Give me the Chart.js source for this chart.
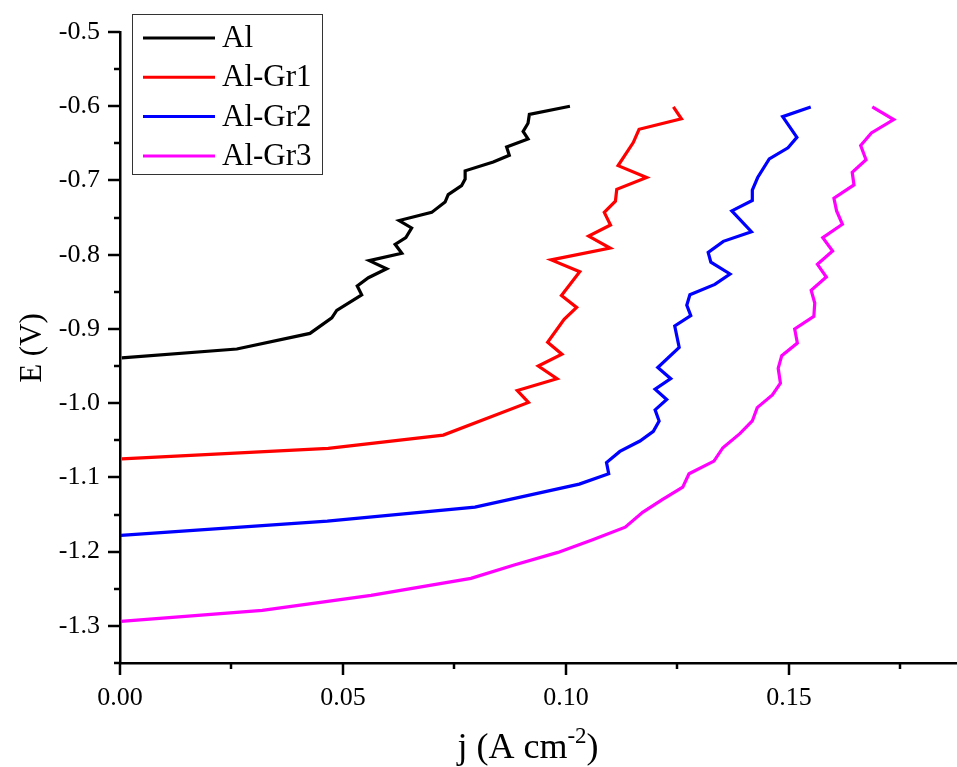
<!DOCTYPE html>
<html>
<head>
<meta charset="utf-8">
<script src="https://cdn.jsdelivr.net/npm/chart.js@4/dist/chart.umd.min.js"></script>
<style>
  html, body { margin: 0; padding: 0; background: #fff; }
  #wrap { width: 957px; height: 767px; position: relative; }
</style>
</head>
<body>
<div id="wrap"><canvas id="c" width="957" height="767"></canvas></div>
<script>
// ---- data (j in A cm^-2, E in V) ----
const seriesNames = ['Al', 'Al-Gr1', 'Al-Gr2', 'Al-Gr3'];
const seriesColors = ['#000000', '#ff0000', '#0000ff', '#ff00ff'];

const jAl = [0.0004,0.0262,0.0426,0.0475,0.0486,0.0542,0.0532,0.0557,0.0598,0.0559,0.0632,0.0617,0.0641,0.0654,0.0626,0.0699,0.0729,0.0736,0.0766,0.0774,0.0774,0.0837,0.0873,0.0867,0.0915,0.0904,0.0915,0.0918,0.1009];
const eAl = [-0.939,-0.927,-0.906,-0.885,-0.875,-0.854,-0.842,-0.831,-0.819,-0.808,-0.798,-0.786,-0.777,-0.764,-0.754,-0.743,-0.729,-0.719,-0.707,-0.698,-0.687,-0.675,-0.666,-0.655,-0.644,-0.634,-0.623,-0.611,-0.600];

const jGr1 = [0.0004,0.0467,0.0725,0.0916,0.0891,0.0980,0.0938,0.0991,0.0959,0.0996,0.1024,0.0990,0.1031,0.0967,0.1099,0.1051,0.1100,0.1086,0.1111,0.1114,0.1181,0.1117,0.1151,0.1164,0.1259,0.1241];
const eGr1 = [-1.075,-1.061,-1.043,-0.999,-0.983,-0.967,-0.950,-0.934,-0.918,-0.887,-0.871,-0.855,-0.823,-0.807,-0.791,-0.775,-0.760,-0.743,-0.728,-0.712,-0.696,-0.680,-0.649,-0.631,-0.617,-0.601];

const jGr2 = [0.0002,0.0465,0.0796,0.1030,0.1096,0.1091,0.1121,0.1166,0.1196,0.1209,0.1200,0.1226,0.1200,0.1235,0.1206,0.1254,0.1244,0.1280,0.1271,0.1278,0.1334,0.1368,0.1325,0.1319,0.1353,0.1416,0.1372,0.1418,0.1418,0.1430,0.1456,0.1498,0.1518,0.1486,0.1549];
const eGr2 = [-1.178,-1.159,-1.140,-1.109,-1.095,-1.080,-1.065,-1.051,-1.038,-1.024,-1.009,-0.995,-0.981,-0.967,-0.952,-0.925,-0.896,-0.882,-0.868,-0.854,-0.840,-0.826,-0.810,-0.797,-0.782,-0.769,-0.741,-0.727,-0.713,-0.696,-0.671,-0.656,-0.642,-0.614,-0.601];

const jGr3 = [0.0002,0.0319,0.0563,0.0787,0.0884,0.0982,0.1060,0.1133,0.1172,0.1216,0.1262,0.1276,0.1332,0.1352,0.1390,0.1418,0.1429,0.1463,0.1481,0.1476,0.1484,0.1519,0.1513,0.1556,0.1558,0.1550,0.1584,0.1564,0.1598,0.1576,0.1620,0.1607,0.1601,0.1646,0.1642,0.1673,0.1661,0.1685,0.1735,0.1687];
const eGr3 = [-1.294,-1.279,-1.259,-1.236,-1.218,-1.201,-1.184,-1.167,-1.147,-1.130,-1.113,-1.095,-1.078,-1.060,-1.041,-1.024,-1.006,-0.989,-0.973,-0.953,-0.936,-0.919,-0.900,-0.883,-0.865,-0.848,-0.830,-0.813,-0.795,-0.777,-0.759,-0.741,-0.724,-0.706,-0.689,-0.672,-0.653,-0.636,-0.618,-0.601];

const xTitle = 'j (A cm';
const xTitleSup = '-2';
const yTitle = 'E (V)';

const allJ = [jAl, jGr1, jGr2, jGr3];
const allE = [eAl, eGr1, eGr2, eGr3];

const FONT = '"Liberation Serif", "Times New Roman", serif';

const datasets = seriesNames.map((name, i) => ({
  label: name,
  data: allJ[i].map((x, k) => ({ x: x, y: allE[i][k] })),
  showLine: true,
  borderColor: seriesColors[i],
  backgroundColor: seriesColors[i],
  borderWidth: 3.2,
  pointRadius: 0,
  tension: 0,
  fill: false
}));

const deco = {
  id: 'deco',
  afterDraw(chart) {
    const ctx = chart.ctx;
    const xs = chart.scales.x, ys = chart.scales.y;
    const a = chart.chartArea;
    ctx.save();
    // tick marks
    ctx.strokeStyle = '#000';
    ctx.lineWidth = 2.5;
    xs.ticks.forEach(t => {
      const px = Math.round(xs.getPixelForValue(t.value));
      const major = Math.round(t.value * 1000) % 50 === 0;
      ctx.beginPath();
      ctx.moveTo(px, a.bottom);
      ctx.lineTo(px, a.bottom + (major ? 12 : 6));
      ctx.stroke();
    });
    ys.ticks.forEach(t => {
      const py = Math.round(ys.getPixelForValue(t.value));
      const major = Math.round(Math.abs(t.value) * 100) % 10 === 0;
      ctx.beginPath();
      ctx.moveTo(a.left, py);
      ctx.lineTo(a.left - (major ? 12 : 6), py);
      ctx.stroke();
    });

    // axis titles
    ctx.fillStyle = '#000';
    ctx.textBaseline = 'alphabetic';
    ctx.textAlign = 'left';
    const mainF = '36px ' + FONT, supF = '23px ' + FONT;
    ctx.font = mainF;
    const w1 = ctx.measureText(xTitle).width;
    const w3 = ctx.measureText(')').width;
    ctx.font = supF;
    const w2 = ctx.measureText(xTitleSup).width;
    const total = w1 + w2 + w3;
    let x0 = 528 - total / 2;
    const base = 758;
    ctx.font = mainF;
    ctx.fillText(xTitle, x0, base);
    ctx.font = supF;
    ctx.fillText(xTitleSup, x0 + w1, base - 15);
    ctx.font = mainF;
    ctx.fillText(')', x0 + w1 + w2, base);

    ctx.save();
    ctx.translate(41, 348);
    ctx.rotate(-Math.PI / 2);
    ctx.textAlign = 'center';
    ctx.font = '31px ' + FONT;
    ctx.fillText(yTitle, 0, 0);
    ctx.restore();

    // legend
    ctx.fillStyle = '#fff';
    ctx.fillRect(132, 14, 190, 160);
    ctx.strokeStyle = '#333';
    ctx.lineWidth = 1;
    ctx.strokeRect(132.5, 14.5, 190, 160);
    chart.data.datasets.forEach((ds, i) => {
      const y = 38 + i * 39.3;
      ctx.strokeStyle = ds.borderColor;
      ctx.lineWidth = 3;
      ctx.beginPath();
      ctx.moveTo(143, y);
      ctx.lineTo(215, y);
      ctx.stroke();
      ctx.fillStyle = '#000';
      ctx.font = '31px ' + FONT;
      ctx.textAlign = 'left';
      ctx.textBaseline = 'middle';
      ctx.fillText(ds.label, 222, y + 1);
    });
    ctx.restore();
  }
};

new Chart(document.getElementById('c'), {
  type: 'scatter',
  data: { datasets: datasets },
  options: {
    responsive: false,
    animation: false,
    devicePixelRatio: 1,
    layout: { padding: { top: 32, left: 0, right: 0, bottom: 0 } },
    plugins: { legend: { display: false }, tooltip: { enabled: false } },
    scales: {
      x: {
        type: 'linear',
        position: 'bottom',
        min: 0,
        max: 0.1877,
        grid: { display: false },
        border: { display: true, color: '#000', width: 2.5 },
        ticks: {
          stepSize: 0.025,
          includeBounds: false,
          autoSkip: false,
          maxRotation: 0,
          padding: 12,
          color: '#000',
          font: { family: FONT, size: 26 },
          callback: (v) => (Math.round(v * 1000) % 50 === 0 ? v.toFixed(2) : '')
        },
        afterFit: (s) => { s.height = 104; }
      },
      y: {
        type: 'linear',
        position: 'left',
        min: -1.35,
        max: -0.5,
        grid: { display: false },
        border: { display: true, color: '#000', width: 2.5 },
        ticks: {
          stepSize: 0.05,
          includeBounds: false,
          autoSkip: false,
          padding: 12,
          color: '#000',
          font: { family: FONT, size: 26 },
          callback: (v) => (Math.round(Math.abs(v) * 100) % 10 === 0 ? v.toFixed(1) : '')
        },
        afterFit: (s) => { s.width = 120; }
      }
    }
  },
  plugins: [deco]
});
</script>
</body>
</html>
